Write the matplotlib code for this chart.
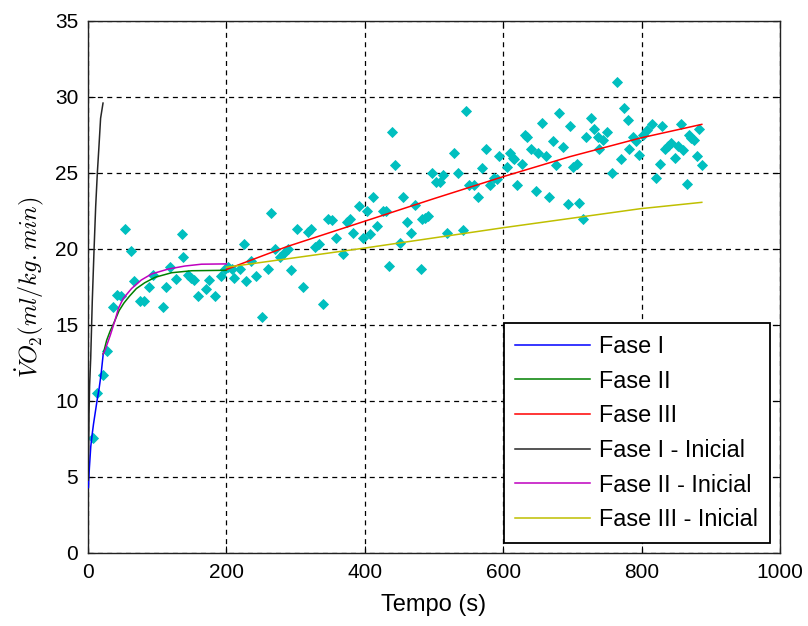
import matplotlib
matplotlib.use("Agg")
import matplotlib.pyplot as plt

plt.rcParams['font.family'] = ['Liberation Sans', 'DejaVu Sans']
plt.rcParams['mathtext.fontset'] = 'cm'

# ---- data ----
scatter_t = [7.7, 13.5, 21, 27, 36.6, 42, 47, 53.5, 61.7, 67, 75, 81, 88.6, 94.4, 108, 112.7,
             118.5, 126.7, 135.4, 137.7, 144, 149, 153.6, 158.5, 170, 174.8, 183.5, 191.7, 198,
             203, 207.6, 211, 219.6, 226, 229, 235, 242.8, 251, 259.7, 264,
             270, 277.5, 283, 288.6, 293, 302.5, 310, 317.4, 321.7, 328, 334, 340, 347, 352,
             358.4, 368, 373.8, 378.6, 383.4, 392, 397.8, 402.7, 407.5, 412, 418, 425.8, 430,
             435.4, 440, 443.6, 450.9, 455.6, 461.4, 466.8, 472.5, 480.6, 482, 487, 491.8,
             496.6, 503, 508.7, 513.4, 518.3, 529, 534, 542.4, 545.8, 551, 558, 564, 570,
             574.7, 581, 587, 590.6, 594, 605, 610, 613.5, 616, 620, 626.7, 632, 635, 639.6,
             647.4, 650.8, 656.6, 661.4, 666.6, 672.5, 676, 681,
             687, 694, 696.5, 701.4, 706, 710, 714.8, 719.6, 726.4, 731, 737.4, 739, 744.7,
             750.4, 756.6, 764, 769.7, 774.6, 780.8, 782, 787, 791.4, 796.7, 802.5, 807.3,
             814.6, 820.8, 826.6, 829, 834, 838.6, 843, 848, 853, 856.4, 860, 866, 869, 872,
             876, 879.5, 883.4, 888]
scatter_v = [7.55, 10.5, 11.7, 13.3, 16.2, 17.0, 16.9, 21.3, 19.9, 17.9, 16.6, 16.6, 17.5, 18.3,
             16.2, 17.5, 18.8, 18.0, 21.0, 19.5, 18.3, 18.1, 17.96, 16.9, 17.4, 17.96, 16.9,
             18.2, 18.7, 18.8, 18.7, 18.1, 18.7, 20.3, 17.9, 19.2, 18.2, 15.5, 18.7, 22.4,
             19.97, 19.5, 19.76, 19.97, 18.6, 21.3, 17.5, 21.1, 21.3, 20.1, 20.3, 16.4, 21.97,
             21.9, 20.7, 19.7, 21.8, 21.97, 21.07, 22.8, 20.7, 22.5, 20.96, 23.4, 21.5, 22.5,
             22.5, 18.9, 27.7, 25.5, 20.4, 23.4, 21.8, 21.07, 22.9, 18.7, 21.95, 22.06, 22.2,
             25.0, 24.4, 24.4, 24.9, 21.07, 26.3, 25.0, 21.25, 29.08, 24.2, 24.2, 23.4, 25.3,
             26.6, 24.2, 24.7, 24.6, 26.1, 25.4, 26.3, 26.0, 25.9, 24.2, 25.6, 27.5, 27.4,
             26.6, 23.8, 26.3, 28.3, 26.1, 23.4, 27.1, 25.5, 28.97,
             26.7, 22.96, 28.1, 25.4, 25.6, 23.05, 21.95, 27.35, 28.6, 27.9, 27.4, 26.6, 27.2,
             27.7, 25.0, 31.0, 25.9, 29.3, 28.5, 26.6, 27.4, 27.1, 26.2, 27.5, 27.8,
             28.2, 24.65, 25.6, 28.1, 26.6, 26.8, 26.95, 26.0, 26.8, 28.2, 26.5, 24.3, 27.5,
             27.3, 27.2, 26.1, 27.9, 25.5]

fase1_t = [0.5, 2, 4, 6, 8, 10, 13, 16, 19, 22]
fase1_v = [4.3, 5.6, 7.0, 7.8, 8.5, 9.1, 10.0, 10.8, 11.8, 13.1]

fase2_t = [22, 27, 32, 38, 45, 52, 60, 70, 82, 97, 121, 150, 200]
fase2_v = [13.1, 14.0, 14.6, 15.2, 15.95, 16.45, 16.9, 17.4, 17.78, 18.14, 18.44, 18.57, 18.6]

fase3_t = [200, 220, 287, 398, 499, 600, 696, 798, 887]
fase3_v = [18.65, 19.0, 20.15, 21.8, 23.3, 24.76, 26.07, 27.3, 28.2]

fase1i_t = [0.3, 1, 1.5, 2.3, 3.9, 6.2, 8.7, 11.1, 13.5, 15.9, 18.2, 21.7]
fase1i_v = [4.8, 7.0, 9.2, 11.0, 12.8, 16.6, 19.9, 22.8, 25.0, 26.8, 28.6, 29.6]

fase2i_t = [22, 25, 32, 39, 44, 51, 63, 77, 92, 116, 140, 164, 200]
fase2i_v = [13.1, 13.4, 14.3, 15.3, 16.1, 16.75, 17.4, 17.96, 18.36, 18.68, 18.88, 19.0, 19.02]

fase3i_t = [200, 398, 600, 798, 887]
fase3i_v = [18.8, 20.05, 21.4, 22.65, 23.07]

labels = ['Fase I', 'Fase II', 'Fase III', 'Fase I - Inicial', 'Fase II - Inicial',
          'Fase III - Inicial']
xticks = [0, 200, 400, 600, 800, 1000]
yticks = [0, 5, 10, 15, 20, 25, 30, 35]

# ---- figure ----
fig = plt.figure(figsize=(8.08, 6.26), dpi=100)
ax = fig.add_axes([88/808, (626-553)/626, 692/808, 532/626])

ax.plot(scatter_t, scatter_v, linestyle='none', marker='D', markersize=4.8,
        color=(0, 0.75, 0.75), markeredgewidth=0.6, zorder=3)

lw = 1.1
l1, = ax.plot(fase1_t, fase1_v, color=(0, 0, 1), lw=lw, zorder=4)
l2, = ax.plot(fase2_t, fase2_v, color=(0, 0.5, 0), lw=lw, zorder=4)
l3, = ax.plot(fase3_t, fase3_v, color=(1, 0, 0), lw=lw, zorder=4)
l4, = ax.plot(fase1i_t, fase1i_v, color=(0.15, 0.15, 0.15), lw=lw, zorder=4)
l5, = ax.plot(fase2i_t, fase2i_v, color=(0.75, 0, 0.75), lw=lw, zorder=4)
l6, = ax.plot(fase3i_t, fase3i_v, color=(0.75, 0.75, 0), lw=lw, zorder=4)

ax.set_xlim(0, 1000)
ax.set_ylim(0, 35)
ax.set_xticks(xticks)
ax.set_yticks(yticks)
ax.tick_params(direction='in', length=5, width=0.8, top=True, right=True,
               labelsize=15, pad=7)
ax.grid(True, color='black', linestyle=(0, (4, 3.5)), linewidth=0.9)
for s in ax.spines.values():
    s.set_linewidth(1.0)
    s.set_color('#222222')

ax.set_xlabel('Tempo (s)', fontsize=17, labelpad=9)
ax.set_ylabel(r'$\dot{V}O_2(ml/kg.min)$', fontsize=17.5, labelpad=6)

leg = ax.legend([l1, l2, l3, l4, l5, l6], labels, loc='lower right',
                bbox_to_anchor=(0.9855, 0.0188), borderaxespad=0, fontsize=16.8,
                handlelength=3.2, handletextpad=0.4, labelspacing=0.5,
                fancybox=False, framealpha=1, edgecolor='black', borderpad=0.5)
leg.get_frame().set_linewidth(1.3)

fig.savefig('out.png', dpi=100)
